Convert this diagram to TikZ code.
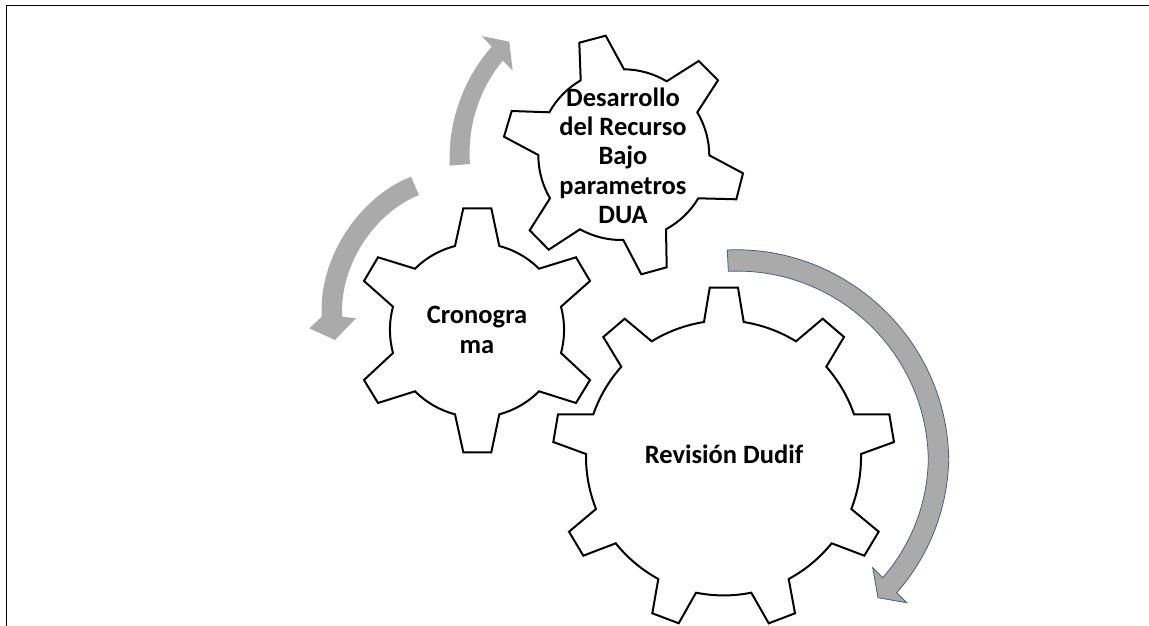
\documentclass[tikz,border=0pt]{standalone}
\usepackage{fontspec}
\setmainfont{Carlito}
\definecolor{arrowgray}{HTML}{AAAAAA}
\definecolor{arrowedge}{HTML}{4A5F7E}
\tikzset{
  gear/.style={draw=black,line width=2pt,fill=white,line join=miter},
  arc seg/.style={bend left=#1,looseness=.88},
  arc back/.style={bend right=#1,looseness=.88},
  sweep/.style={fill=arrowgray,draw=none},
  gearlabel/.style={font=\bfseries\fontsize{26.5}{29.3}\selectfont,align=center,inner sep=0pt,text=black},
  frameline/.style={draw=black,line width=1.3pt}
}
\begin{document}
\begin{tikzpicture}[x=1pt,y=-1pt]
\useasboundingbox (0,0) rectangle (1149,626);
\draw[frameline] (6.7,626) -- (6.7,5.3) -- (1149,5.3);
% sweeping arrows
\fill[sweep] (449.7,165.7) to[arc seg=22] (491.7,46.7) -- (481.7,36) -- (509.3,41.7) -- (512.7,70.7) -- (502.7,60.7) to[arc back=22] (470,164) -- cycle;
\fill[sweep] (411,176.7) to[arc back=36] (321.7,316.7) -- (309.3,328.3) -- (335,340) -- (356,318.3) -- (342.3,316.7) to[arc seg=36] (419,195) -- cycle;
\filldraw[sweep,draw=arrowedge,line width=.8pt] (727.3,250) to[bend left=46,looseness=1] (948.7,460) to[arc seg=20] (896.7,592.7) -- (906.7,602.7) -- (878,597.7) -- (872.7,567.7) -- (882.7,577.7) to[arc back=20] (928.3,460) to[bend right=46,looseness=1] (728.3,271.3) -- cycle;
% gears
\draw[gear] (579.3,42.7) -- (605.7,35.7) -- (624,69.3) to[arc seg=15] (666.7,81.3) -- (698.7,61) -- (718,80.3) -- (697.3,112.3) to[arc seg=15] (709.3,155.3) -- (743,173.3) -- (736.3,199.3) -- (698.3,198.3) to[arc seg=15] (666,229.3) -- (666.7,267.3) -- (641.3,274.3) -- (623.3,240) to[arc seg=15] (580,229.3) -- (548.7,249.7) -- (529.7,230.3) -- (550,198.3) to[arc seg=15] (538.3,155) -- (504,136.7) -- (511.7,111) -- (549.3,112.3) to[arc seg=15] (580.7,80.3) -- cycle;
\draw[gear] (463.3,208.3) -- (491.3,208.3) -- (499.3,246) to[arc seg=15] (539,268.7) -- (576,257.3) -- (590,281) -- (561,306.7) to[arc seg=15] (561,353) -- (590,380) -- (576,403) -- (539,391.3) to[arc seg=15] (499.3,414.3) -- (491.3,452.3) -- (463.3,452.3) -- (455,414.3) to[arc seg=15] (415,391.3) -- (378,403) -- (364,380) -- (393,353) to[arc seg=15] (393,306.7) -- (364,281) -- (378,257.3) -- (415,268.7) to[arc seg=15] (455,246) -- cycle;
\draw[gear] (709.7,287.7) -- (738,287.7) -- (743.7,322) to[arc seg=11] (796,341.3) -- (822.7,318.7) -- (844,337) -- (826.3,366.7) to[arc seg=11] (854,414.3) -- (889.3,414.3) -- (894,442) -- (861,454) to[arc seg=11] (851.3,509) -- (878.7,531.7) -- (864.3,555.7) -- (831.7,543.3) to[arc seg=11] (788.7,579) -- (795,613.3) -- (768.7,623.3) -- (751.3,592.7) to[arc seg=11] (696,592.7) -- (678.7,623.3) -- (652.3,613.3) -- (658.3,579) to[arc seg=11] (615.7,543.3) -- (583.3,555.7) -- (569,531.7) -- (596,509) to[arc seg=11] (586,454) -- (553.3,442) -- (558,414.3) -- (593.3,414.3) to[arc seg=11] (621.3,366.7) -- (603.3,337) -- (624.7,318.7) -- (651.7,341.3) to[arc seg=11] (704,322) -- cycle;
% labels
\node[gearlabel] (desarrollo) at (623,155.5) {Desarrollo\\del Recurso\\Bajo\\parametros\\DUA};
\node[gearlabel] (cronograma) at (477,330) {Cronogra\\ma};
\node[gearlabel] (revision) at (724,454) {Revisión Dudif};
\end{tikzpicture}
\end{document}
